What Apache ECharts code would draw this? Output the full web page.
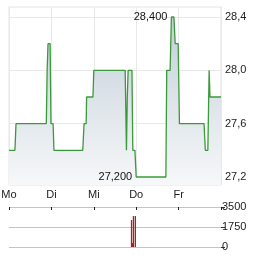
<!DOCTYPE html>
<html>
<head>
<meta charset="utf-8">
<script src="https://cdn.jsdelivr.net/npm/echarts@6/dist/echarts.min.js"></script>
<style>html,body{margin:0;padding:0;background:#fff}#c{width:264px;height:255px}</style>
</head>
<body>
<div id="c"></div>
<script>
var dayLabels = ['Mo', 'Di', 'Mi', 'Do', 'Fr'];
var times = [0, 0.14, 0.165, 0.88, 0.90, 0.92, 0.97, 0.99, 1.04, 1.06, 1.74, 1.77, 1.82, 1.83, 1.98, 2.00, 2.74, 2.77, 2.79, 2.81, 2.90, 2.92, 2.97, 3.00, 3.70, 3.72, 3.80, 3.83, 3.89, 3.92, 3.99, 4.02, 4.60, 4.63, 4.69, 4.72, 4.74, 5.0];
var prices = [27.4, 27.4, 27.6, 27.6, 28.0, 28.2, 28.2, 27.6, 27.6, 27.4, 27.4, 27.6, 27.6, 27.8, 27.8, 28.0, 28.0, 27.4, 27.8, 28.0, 28.0, 27.4, 27.4, 27.2, 27.2, 28.0, 28.0, 28.4, 28.4, 28.2, 28.2, 27.6, 27.6, 27.4, 27.4, 28.0, 27.8, 27.8];
var priceTicks = [27.2, 27.6, 28.0, 28.4];
var volTimes = [2.89, 2.91, 2.935, 2.98];
var volumes = [2360, 350, 2710, 2710];
var volTicks = [0, 1750, 3500];

var priceData = times.map(function (t, i) { return [t, prices[i]]; });
var volData = volTimes.map(function (t, i) { return [t, volumes[i]]; });
var FONT = 'Liberation Sans, Arial, sans-serif';
function fmtComma(v, d) { return v.toFixed(d).replace('.', ','); }

var chart = echarts.init(document.getElementById('c'), null, { renderer: 'canvas' });
chart.setOption({
  animation: false,
  grid: [
    { left: 9, top: 7, width: 212, height: 178, show: true, borderColor: '#e4e4e4', borderWidth: 1, backgroundColor: 'transparent', outerBoundsMode: 'none' },
    { left: 9, top: 207, width: 212, height: 40, show: false, outerBoundsMode: 'none' }
  ],
  xAxis: [
    {
      type: 'value', gridIndex: 0, min: 0, max: 5, interval: 1, position: 'bottom',
      axisLine: { show: false, onZero: false }, axisTick: { show: false },
      splitLine: { show: true, lineStyle: { color: '#e8e8e8', width: 1 } },
      axisLabel: { margin: 4, color: '#222', fontSize: 11, fontFamily: FONT,
        formatter: function (v) { return dayLabels[Math.round(v)] || ''; } }
    },
    {
      type: 'value', gridIndex: 1, min: 0, max: 5, interval: 1, position: 'top',
      axisLine: { show: false, onZero: false },
      axisTick: { show: true, inside: true, length: 3, lineStyle: { color: '#222', width: 1 } },
      splitLine: { show: false },
      axisLabel: { show: false },
      z: 5
    }
  ],
  yAxis: [
    {
      type: 'value', gridIndex: 0, position: 'right', min: 27.14, max: 28.475,
      axisLine: { show: false, onZero: false },
      axisTick: { show: false, customValues: priceTicks },
      splitLine: { show: true, lineStyle: { color: '#e8e8e8', width: 1 } },
      axisLabel: { customValues: priceTicks, margin: 4, color: '#222', fontSize: 11, fontFamily: FONT,
        formatter: function (v) { return fmtComma(v, 1); } }
    },
    {
      type: 'value', gridIndex: 1, position: 'right', min: 0, max: 3500, interval: 1750,
      axisLine: { show: false, onZero: false },
      axisTick: { show: true, length: 4, lineStyle: { color: '#333' } },
      splitLine: { show: true, lineStyle: { color: '#c4c4c4', width: 1 } },
      axisLabel: { margin: 1, color: '#222', fontSize: 11, fontFamily: FONT,
        formatter: function (v) { return String(v); } }
    }
  ],
  series: [
    {
      type: 'line', xAxisIndex: 0, yAxisIndex: 0, data: priceData,
      showSymbol: false, symbol: 'none',
      lineStyle: { color: '#3a9a3a', width: 1.3 },
      areaStyle: { origin: 'start', opacity: 1, color: new echarts.graphic.LinearGradient(0, 0, 0, 1, [
        { offset: 0, color: 'rgb(196,207,217)' },
        { offset: 1, color: 'rgb(246,248,249)' }
      ]) },
      markPoint: {
        symbol: 'circle', symbolSize: 0,
        label: { show: true, position: 'left', distance: 4, color: '#111', fontSize: 11, fontFamily: FONT,
          formatter: function (p) { return fmtComma(p.value, 3); } },
        data: [{ type: 'max' }, { type: 'min' }]
      }
    },
    {
      type: 'bar', xAxisIndex: 1, yAxisIndex: 1, data: volData,
      barWidth: 1.3, itemStyle: { color: '#a82020' }
    }
  ]
});
</script>
</body>
</html>
